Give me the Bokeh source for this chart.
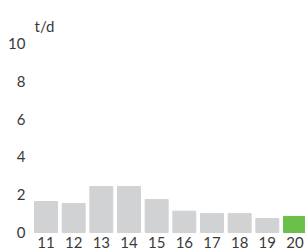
from bokeh.plotting import figure
from bokeh.models import Range1d, FixedTicker, Label
from bokeh.core.properties import value
from bokeh.embed import file_html
from bokeh.resources import INLINE

days = [11, 12, 13, 14, 15, 16, 17, 18, 19, 20]
values = [1.64, 1.53, 2.43, 2.43, 1.75, 1.13, 1.0, 1.0, 0.74, 0.85]
colors = ["#d1d2d4"] * 9 + ["#6cbf4a"]
y_ticks = [0, 2, 4, 6, 8, 10]
unit = "t/d"

FONT = "Lato"
TXT = "#3a3a3a"

p = figure(width=305, height=251, output_backend="svg", toolbar_location=None,
           x_axis_location=None,
           x_range=Range1d(10.512, 20.38), y_range=Range1d(-1.005, 12.275),
           min_border_left=32, min_border_right=0, min_border_top=0, min_border_bottom=0)
p.outline_line_color = None
p.grid.visible = False

p.vbar(x=days, top=values, bottom=0, width=0.83, color=colors)

# day labels under the bars (drawn through the data scales)
p.text(x=days, y=[-0.8] * len(days), text=[str(d) for d in days],
       text_align="center", text_baseline="bottom",
       text_font=value(FONT), text_font_size=value("15px"), text_color=TXT)

ax = p.yaxis[0]
ax.axis_line_color = None
ax.major_tick_line_color = None
ax.minor_tick_line_color = None
ax.major_tick_in = 0
ax.major_tick_out = 0
ax.minor_tick_out = 0
ax.major_label_text_font = FONT
ax.major_label_text_font_size = "15px"
ax.major_label_text_color = TXT
ax.ticker = FixedTicker(ticks=y_ticks)
ax.major_label_standoff = 7

p.add_layout(Label(x=10.585, y=10.9, text=unit, text_font=FONT, text_font_size="15px",
                   text_color=TXT, text_baseline="alphabetic"))

open("out.html", "w").write(file_html(p, INLINE))
